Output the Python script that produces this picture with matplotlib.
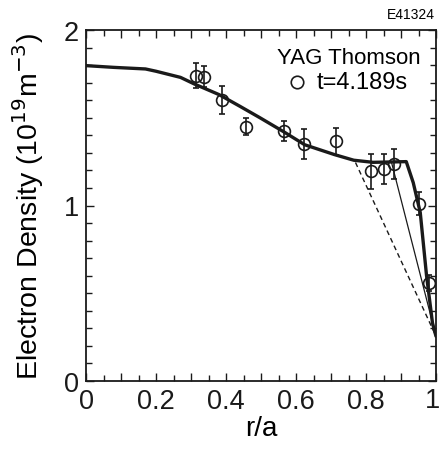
import matplotlib
matplotlib.use("Agg")
import matplotlib.pyplot as plt
from matplotlib.ticker import MultipleLocator, FuncFormatter

plt.rcParams['font.family'] = ['Liberation Sans', 'DejaVu Sans']

# Measured data (YAG Thomson, t=4.189s)
r_data = [0.314, 0.337, 0.388, 0.457, 0.567, 0.623, 0.714, 0.814, 0.851, 0.881, 0.951, 0.979]
n_data = [1.74, 1.735, 1.60, 1.45, 1.425, 1.35, 1.365, 1.195, 1.21, 1.235, 1.01, 0.56]
n_err = [0.07, 0.06, 0.08, 0.05, 0.057, 0.084, 0.075, 0.10, 0.085, 0.085, 0.065, 0.045]

# Fitted profile (thick)
r_fit = [0.0, 0.08, 0.17, 0.2, 0.27, 0.31, 0.38, 0.44, 0.497, 0.565, 0.625, 0.71, 0.765, 0.82, 0.87, 0.915, 0.935, 0.955, 0.973, 0.99, 1.0]
n_fit = [1.797, 1.787, 1.778, 1.765, 1.73, 1.692, 1.632, 1.565, 1.50, 1.42, 1.346, 1.29, 1.258, 1.246, 1.248, 1.25, 1.13, 0.96, 0.60, 0.33, 0.255]

# Thin line
r_thin = [0.873, 1.0]
n_thin = [1.245, 0.255]

# Dashed line
r_dash = [0.77, 1.0]
n_dash = [1.245, 0.255]

fig = plt.figure(figsize=(4.4, 4.52), dpi=100)
ax = fig.add_axes([86/440, 1-382/452, 350/440, 351/452])

ax.plot(r_fit, n_fit, color='#1a1a1a', lw=2.4, solid_capstyle='round', solid_joinstyle='round', zorder=3)
ax.plot(r_thin, n_thin, color='#1a1a1a', lw=0.9, zorder=2)
ax.plot(r_dash, n_dash, color='#1a1a1a', lw=1.0, ls=(0, (3.5, 2.5)), zorder=2)
ax.errorbar(r_data, n_data, yerr=n_err, fmt='o', ms=8.5, mfc='none', mec='#1a1a1a',
            mew=1.2, ecolor='#1a1a1a', elinewidth=1.2, capsize=2.5, capthick=1.2, zorder=4)

ax.set_xlim(0, 1)
ax.set_ylim(0, 2)

ax.xaxis.set_major_locator(MultipleLocator(0.1))
ax.xaxis.set_minor_locator(MultipleLocator(0.05))
ax.xaxis.set_major_formatter(FuncFormatter(
    lambda v, p: ('0' if abs(v) < 1e-9 else ('' if abs(v-1) < 1e-9 else f'{v:.1f}')) if round(v*10) % 2 == 0 else ''))
ax.yaxis.set_major_locator(MultipleLocator(1))
ax.yaxis.set_minor_locator(MultipleLocator(0.1))

ax.tick_params(which='both', direction='in', top=True, right=True, labelsize=19.5, width=1.0, colors='#1a1a1a')
ax.tick_params(which='major', length=6, pad=5)
ax.tick_params(which='minor', length=4)
for s in ax.spines.values():
    s.set_linewidth(1.3)
    s.set_color('#1a1a1a')

# last x tick label, nudged inward to stay on the canvas
ax.annotate('1', xy=(1, 0), xycoords='axes fraction', xytext=(-2.5, -4.5),
            textcoords='offset points', ha='center', va='top', fontsize=19.5, color='#1a1a1a')

ax.set_xlabel('r/a', fontsize=20, labelpad=1)
ax.set_ylabel('Electron Density (10$^{19}$m$^{-3}$)', fontsize=20.5, labelpad=13)

ax.text(0.957, 0.923, 'YAG Thomson', transform=ax.transAxes, fontsize=16, ha='right', va='center')
ax.plot([0.602], [0.852], transform=ax.transAxes, marker='o', ms=9, mfc='none', mec='#1a1a1a', mew=1.2)
ax.text(0.79, 0.852, 't=4.189s', transform=ax.transAxes, fontsize=17, ha='center', va='center')
fig.text(435/440, 1-15/452, 'E41324', fontsize=10, ha='right', va='center')

fig.savefig('out.png', dpi=100)
